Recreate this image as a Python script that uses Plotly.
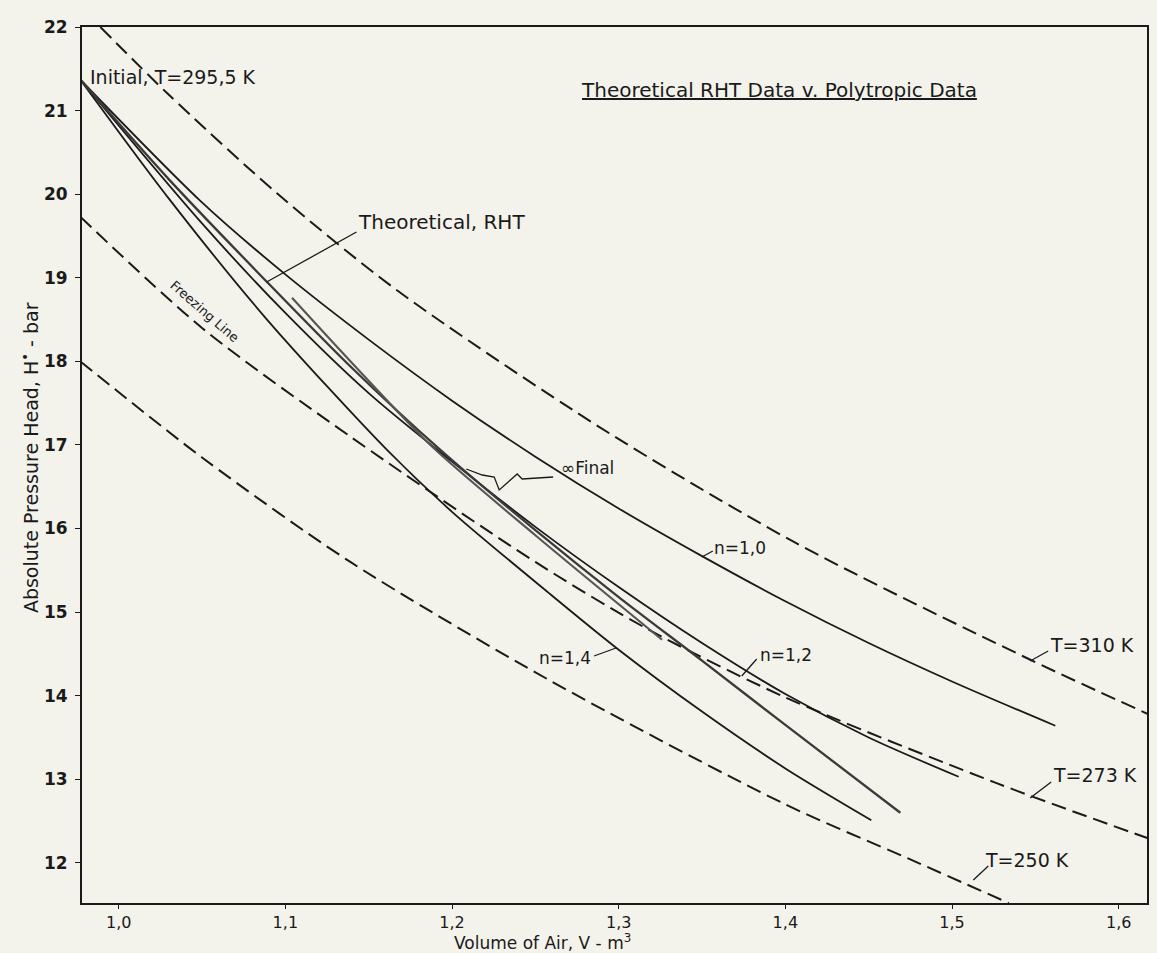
import plotly.graph_objects as go

# ---------------- data ----------------
# polytropic curves from the initial state
n10_V = [0.977, 1.049, 1.10, 1.15, 1.20, 1.25, 1.30, 1.35, 1.40, 1.45, 1.50, 1.562]
n10_P = [21.37, 19.92, 19.04, 18.26, 17.53, 16.86, 16.24, 15.67, 15.13, 14.63, 14.17, 13.64]

n12_V = [0.977, 1.05, 1.10, 1.15, 1.20, 1.25, 1.30, 1.35, 1.40, 1.45, 1.504]
n12_P = [21.37, 19.65, 18.58, 17.62, 16.80, 16.02, 15.30, 14.63, 14.02, 13.50, 13.03]

n14_V = [0.977, 1.03, 1.089, 1.161, 1.20, 1.258, 1.30, 1.35, 1.40, 1.4516]
n14_P = [21.37, 19.95, 18.50, 16.94, 16.20, 15.23, 14.55, 13.81, 13.13, 12.51]

# theoretical RHT curve
rht_V = [0.977, 1.03, 1.089, 1.14, 1.193, 1.25, 1.30, 1.35, 1.40, 1.469]
rht_P = [21.37, 20.18, 18.95, 17.92, 16.94, 15.98, 15.18, 14.42, 13.65, 12.60]

# short data curve
short_V = [1.104, 1.14, 1.188, 1.25, 1.326]
short_P = [18.76, 17.98, 16.98, 15.92, 14.67]

# isotherms
iso310_V = [0.989, 1.029, 1.095, 1.167, 1.288, 1.406, 1.547, 1.621]
iso310_P = [22.0, 21.21, 20.01, 18.85, 17.22, 15.83, 14.43, 13.75]
iso273_V = [0.977, 1.05, 1.139, 1.25, 1.318, 1.40, 1.526, 1.621]
iso273_P = [19.73, 18.40, 17.10, 15.60, 14.79, 13.98, 12.96, 12.27]
iso250_V = [0.977, 1.05, 1.139, 1.258, 1.40, 1.474, 1.534]
iso250_P = [18.0, 16.85, 15.6, 14.19, 12.70, 12.05, 11.52]

x_tickvals = [1.0, 1.1, 1.2, 1.3, 1.4, 1.5, 1.6]
x_ticktext = ["1,0", "1,1", "1,2", "1,3", "1,4", "1,5", "1,6"]
y_tickvals = [12, 13, 14, 15, 16, 17, 18, 19, 20, 21, 22]

# ---------------- layout helpers ----------------
X0, X1 = 0.978, 1.617
Y0, Y1 = 11.52, 22.0
W, H = 1157, 953
ML, MR, MT, MB = 82, 8, 27, 50
PW, PH = W - ML - MR, H - MT - MB


def vx(px):
    return X0 + (px - ML) * (X1 - X0) / PW


def py(pyx):
    return Y1 - (pyx - MT) * (Y1 - Y0) / PH


def paper_x(px):
    return (px - ML) / PW


def paper_y(pyx):
    return 1 - (pyx - MT) / PH


INK = "#1a1a1a"
BG = "#f3f2eb"
FONT = "DejaVu Sans"

fig = go.Figure()


def solid(V, P, color=INK, width=1.8):
    fig.add_trace(go.Scatter(x=V, y=P, mode="lines",
                             line=dict(color=color, width=width, shape="spline", smoothing=0.8),
                             hoverinfo="skip", showlegend=False))


def dashed(V, P):
    fig.add_trace(go.Scatter(x=V, y=P, mode="lines",
                             line=dict(color=INK, width=2.0, dash="15px,7px", shape="spline", smoothing=0.8),
                             hoverinfo="skip", showlegend=False))


dashed(iso310_V, iso310_P)
dashed(iso273_V, iso273_P)
dashed(iso250_V, iso250_P)
solid(n10_V, n10_P)
solid(n12_V, n12_P)
solid(n14_V, n14_P)
solid(rht_V, rht_P, color="#3a3a3a", width=2.3)
solid(short_V, short_P, color="#555555", width=2.1)

# zigzag leader for "Final" (reference pixel positions)
zig_px = [(554, 477), (523, 479), (518, 474), (500, 490), (495, 477), (483, 475), (467, 469)]
fig.add_trace(go.Scatter(x=[vx(a) for a, b in zig_px], y=[py(b) for a, b in zig_px], mode="lines",
                         line=dict(color=INK, width=1.3), hoverinfo="skip", showlegend=False))

# straight leaders (reference pixel positions)
leaders = [
    ((357, 232), (267, 282)),   # Theoretical, RHT
    ((714, 551), (703, 557)),   # n=1,0
    ((758, 659), (743, 676)),   # n=1,2
    ((595, 656), (617, 648)),   # n=1,4
    ((1050, 651), (1032, 661)), # T=310
    ((1053, 782), (1032, 798)), # T=273
    ((990, 866), (975, 880)),   # T=250
]
for (a, b) in leaders:
    fig.add_shape(type="line", x0=vx(a[0]), y0=py(a[1]), x1=vx(b[0]), y1=py(b[1]),
                  line=dict(color=INK, width=1.3), xref="x", yref="y")

labels = [
    ("Initial, T=295,5 K", 88, 77, "left", 19),
    ("Theoretical, RHT", 357, 222, "left", 20),
    ("\u221eFinal", 560, 468, "left", 17),
    ("n=1,0", 713, 548, "left", 17),
    ("n=1,2", 759, 655, "left", 17),
    ("n=1,4", 594, 658, "right", 17),
    ("T=310 K", 1050, 645, "left", 19),
    ("T=273 K", 1053, 775, "left", 19),
    ("T=250 K", 985, 860, "left", 19),
]
for (t, x, y, anc, sz) in labels:
    fig.add_annotation(x=vx(x), y=py(y), text=t, showarrow=False, xanchor=anc, yanchor="middle",
                       font=dict(family=FONT, size=sz, color=INK), xref="x", yref="y")

fig.add_annotation(x=vx(205), y=py(311), text="Freezing Line", showarrow=False, textangle=41,
                   font=dict(family=FONT, size=13, color=INK), xref="x", yref="y")

fig.add_annotation(x=vx(580), y=py(90), text="<u>Theoretical RHT Data v. Polytropic Data</u>", showarrow=False,
                   xanchor="left", yanchor="middle", font=dict(family=FONT, size=20, color=INK),
                   xref="x", yref="y")

# axis titles as free annotations
fig.add_annotation(x=paper_x(543), y=paper_y(942), xref="paper", yref="paper",
                   text="Volume of Air, V - m<sup>3</sup>",
                   showarrow=False, xanchor="center", yanchor="middle",
                   font=dict(family=FONT, size=17, color=INK))
fig.add_annotation(x=paper_x(30), y=paper_y(458), xref="paper", yref="paper",
                   text="Absolute Pressure Head, H<sup>\u2022</sup> - bar", textangle=-90,
                   showarrow=False, xanchor="center", yanchor="middle",
                   font=dict(family=FONT, size=19, color=INK))

fig.update_layout(
    width=W, height=H,
    margin=dict(l=ML, r=MR, t=MT, b=MB),
    paper_bgcolor=BG, plot_bgcolor=BG,
    showlegend=False,
    font=dict(family=FONT, color=INK),
)
fig.update_xaxes(range=[X0, X1], tickvals=x_tickvals, ticktext=x_ticktext, showgrid=False, zeroline=False,
                 showline=True, linecolor=INK, linewidth=2, mirror=True, ticks="outside", ticklen=4,
                 tickcolor=INK, tickfont=dict(family=FONT, size=16, color=INK))
fig.update_yaxes(range=[Y0, Y1], tickvals=y_tickvals, showgrid=False, zeroline=False,
                 showline=True, linecolor=INK, linewidth=2, mirror=True, ticks="outside", ticklen=5,
                 ticklabelstandoff=4,
                 tickcolor=INK, tickfont=dict(family=FONT, size=17, color=INK, weight="bold"))

fig.write_html("out.html", config={"displayModeBar": False}, post_script=(
    "document.body.style.margin='0px';"
    "document.body.style.overflow='hidden';"
    "document.body.style.background='" + BG + "';"))
